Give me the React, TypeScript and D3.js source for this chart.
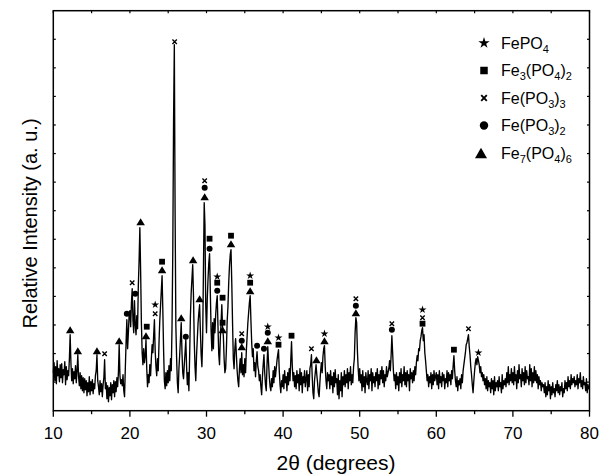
import React from 'react';
import * as d3 from 'd3';

// 2θ sampling of the pattern
const START = 10;
const STEP = 0.1;

// Relative intensity (a.u.), one row per degree (x.0 ... x.9)
const intensity: number[] = [
  38,48,30,44,27,50,35,42,29,46,
  33,47,28,41,36,49,26,44,31,40,
  35,52,76,48,30,42,27,39,32,45,
  28,40,56,34,25,38,22,35,20,33,
  18,32,21,30,15,28,19,34,16,29,
  20,31,17,27,22,35,40,56,30,24,
  16,30,19,27,14,26,33,51,22,28,
  12,25,9,23,15,28,11,26,18,30,
  14,29,19,33,24,38,66,35,27,31,
  25,36,20,14,42,68,91,62,78,96,
  100,84,108,122,90,78,110,86,76,95,
  82,125,150,183,140,88,58,46,62,48,
  55,71,42,24,36,28,46,35,52,66,
  58,75,91,60,44,35,52,40,68,90,
  105,120,135,100,60,30,22,38,25,40,
  28,45,30,52,40,85,160,290,366,200,
  85,52,28,18,42,56,72,88,58,38,
  32,46,58,71,44,26,38,20,55,95,
  118,132,146,115,70,44,30,55,72,88,
  98,106,80,56,44,72,140,208,185,105,
  78,112,132,148,157,118,80,60,88,62,
  92,78,96,108,115,84,56,46,72,88,
  106,82,75,52,38,42,62,90,104,128,
  145,156,161,128,88,52,42,62,72,56,
  40,30,24,42,52,38,58,36,46,34,
  52,38,60,74,88,98,108,115,90,68,
  54,62,40,48,34,50,59,44,40,30,
  36,24,16,34,46,56,38,26,20,46,
  64,48,34,24,20,32,24,40,28,44,
  34,42,50,56,61,40,26,18,30,24,
  36,22,40,28,34,20,38,26,42,30,
  50,69,45,30,38,24,35,22,40,28,
  36,20,42,26,38,18,34,28,40,24,
  32,40,20,36,24,42,46,56,34,18,
  12,30,38,46,36,28,18,14,28,40,
  48,38,54,62,65,44,30,22,38,30,
  36,22,40,26,34,18,38,24,41,28,
  32,16,36,12,30,20,38,14,34,26,
  40,24,36,28,42,22,38,30,44,26,
  36,28,44,52,78,93,88,60,42,30,
  42,28,36,20,40,24,34,18,38,30,
  26,40,22,36,30,42,20,38,28,34,
  24,38,30,42,22,36,26,40,32,44,
  28,40,24,36,30,44,34,38,42,50,
  40,55,75,58,40,30,36,22,38,26,
  34,20,38,28,42,24,36,30,44,26,
  38,24,40,30,36,20,42,32,38,28,
  40,30,44,36,48,55,50,62,60,70,
  74,80,83,70,76,58,50,40,30,36,
  24,34,28,38,22,36,26,40,30,34,
  38,26,36,22,40,28,34,24,38,30,
  36,22,32,28,40,24,38,30,36,26,
  40,32,45,55,40,30,24,34,20,30,
  26,32,22,36,28,40,46,52,58,66,
  68,72,76,64,56,44,36,26,18,30,
  40,48,52,46,54,50,46,38,44,34,
  38,30,36,26,32,22,34,20,30,24,
  28,18,32,22,30,16,34,20,28,24,
  30,20,34,24,28,18,36,22,30,26,
  32,24,38,28,44,26,36,30,42,28,
  38,26,44,30,36,22,40,28,46,32,
  36,24,42,30,38,26,44,28,40,32,
  34,26,46,30,42,24,38,28,44,30,
  40,28,36,22,34,26,30,20,28,24,
  26,18,28,14,24,16,30,20,26,12,
  24,16,28,18,22,14,26,20,30,18,
  26,16,24,20,28,14,22,18,30,22,
  28,20,34,24,30,22,36,26,32,28,
  34,24,30,26,36,22,32,28,38,24,
  30,22,34,26,28,20,32,18,26,22,
  24,
];

// Phase markers: [2θ, level]
const fePO4: [number, number][] = [
  [23.3, 106], [31.4, 134], [35.7, 135], [38.0, 84], [39.4, 73], [45.4, 77], [58.2, 101], [65.5, 58],
];
const fe3PO42: [number, number][] = [
  [22.2, 84], [24.2, 149], [30.4, 172], [31.4, 128], [32.1, 113], [32.1, 88], [33.2, 175],
  [35.7, 128], [39.4, 66], [41.1, 75], [58.2, 87], [62.3, 61],
];
const fePO33: [number, number][] = [
  [16.7, 57], [20.3, 128], [23.3, 97], [25.84, 369], [29.76, 230], [34.6, 77], [43.7, 62],
  [49.5, 112], [54.2, 87], [58.2, 93], [64.2, 82],
];
const fePO32: [number, number][] = [
  [19.6, 97], [20.7, 117], [27.3, 74], [29.76, 223], [30.4, 162], [31.4, 120], [34.6, 70],
  [36.6, 65], [37.5, 62], [38.0, 78], [49.5, 105], [54.2, 81],
];
const fe7PO46: [number, number][] = [
  [12.2, 81], [13.2, 60], [15.7, 60], [18.6, 70], [21.4, 189], [22.1, 75], [24.2, 141],
  [26.7, 93], [28.25, 151], [29.1, 112], [29.76, 214], [32.1, 81], [33.2, 167], [34.6, 64],
  [35.7, 120], [38.0, 70], [44.35, 51], [45.4, 70], [49.5, 98],
];

const xMajorTicks = [10, 20, 30, 40, 50, 60, 70, 80];
const xMinorTicks = [15, 25, 35, 45, 55, 65, 75];
const yTickCount = 14;

type Seg = [string, boolean];
const legendItems: { type: string; label: Seg[] }[] = [
  { type: 'star', label: [['FePO', false], ['4', true]] },
  { type: 'square', label: [['Fe', false], ['3', true], ['(PO', false], ['4', true], [')', false], ['2', true]] },
  { type: 'x', label: [['Fe(PO', false], ['3', true], [')', false], ['3', true]] },
  { type: 'circle', label: [['Fe(PO', false], ['3', true], [')', false], ['2', true]] },
  { type: 'triangle', label: [['Fe', false], ['7', true], ['(PO', false], ['4', true], [')', false], ['6', true]] },
];

const FONT = "'Liberation Sans', Arial, Helvetica, sans-serif";

const W = 602, H = 476;
const L = 53.3, R = 589.5, T = 10.7, B = 410.7;

function Marker({ type, cx, cy, big }: { type: string; cx: number; cy: number; big?: boolean }) {
  if (type === 'star') {
    const p = d3.symbol(d3.symbolStar, big ? 40 : 20)() as string;
    return <path d={p} transform={`translate(${cx},${cy})`} fill="#000" />;
  }
  if (type === 'square') {
    const s = big ? 7.5 : 5.8;
    return <rect x={cx - s / 2} y={cy - s / 2} width={s} height={s} fill="#000" />;
  }
  if (type === 'circle') {
    return <circle cx={cx} cy={cy} r={big ? 4.2 : 3} fill="#000" />;
  }
  if (type === 'triangle') {
    const w = big ? 12 : 8.5, h = big ? 10.5 : 7;
    return <path d={`M${cx},${cy - h / 2}L${cx + w / 2},${cy + h / 2}L${cx - w / 2},${cy + h / 2}Z`} fill="#000" />;
  }
  const a = big ? 2.8 : 2.2;
  return (
    <path
      d={`M${cx - a},${cy - a}L${cx + a},${cy + a}M${cx + a},${cy - a}L${cx - a},${cy + a}`}
      stroke="#000"
      strokeWidth={big ? 1.9 : 1.4}
      fill="none"
    />
  );
}

export default function App() {
  const x = d3.scaleLinear().domain([10, 80]).range([L, R]);
  const y = d3.scaleLinear().domain([0, 400]).range([B, T]);
  const line = d3.line<number>()
    .x((_, i) => x(START + i * STEP))
    .y((d) => y(d));
  const yTicks = d3.range(1, yTickCount).map((i) => (400 / yTickCount) * i);

  const groups: [string, [number, number][]][] = [
    ['star', fePO4], ['square', fe3PO42], ['x', fePO33], ['circle', fePO32], ['triangle', fe7PO46],
  ];

  const legendX = 484, legendTextX = 501, legendY0 = 43, legendDy = 27.5;

  return (
    <svg width={W} height={H} style={{ position: 'absolute', left: 0, top: 0, background: '#fff' }}>
      <rect x={0} y={0} width={W} height={H} fill="#fff" />
      <path d={line(intensity) as string} fill="none" stroke="#000" strokeWidth={1.35} strokeLinejoin="round" />

      {groups.map(([t, arr]) =>
        arr.map(([tt, v], i) => <Marker key={t + i} type={t} cx={x(tt)} cy={y(v)} />)
      )}

      {/* frame */}
      <rect x={L} y={T} width={R - L} height={B - T} fill="none" stroke="#000" strokeWidth={1.5} />

      {/* bottom ticks (outside) */}
      {xMajorTicks.map((t) => (
        <line key={'bM' + t} x1={x(t)} x2={x(t)} y1={B} y2={B + 6} stroke="#000" strokeWidth={1.3} />
      ))}
      {xMinorTicks.map((t) => (
        <line key={'bm' + t} x1={x(t)} x2={x(t)} y1={B} y2={B + 3.5} stroke="#000" strokeWidth={1.3} />
      ))}
      {/* top ticks (inside) */}
      {[...xMajorTicks, ...xMinorTicks].map((t) => (
        <line key={'t' + t} x1={x(t)} x2={x(t)} y1={T} y2={T + 2.5} stroke="#000" strokeWidth={1.2} />
      ))}
      {/* left / right ticks (inside) */}
      {yTicks.map((v) => (
        <g key={'y' + v}>
          <line x1={L} x2={L + 2.5} y1={y(v)} y2={y(v)} stroke="#000" strokeWidth={1.2} />
          <line x1={R} x2={R - 2.5} y1={y(v)} y2={y(v)} stroke="#000" strokeWidth={1.2} />
        </g>
      ))}

      {xMajorTicks.map((t) => (
        <text key={'l' + t} x={x(t)} y={439} fontSize={17} textAnchor="middle" fontFamily={FONT} fill="#000">{t}</text>
      ))}

      <text x={336} y={469.5} fontSize={21} textAnchor="middle" fontFamily={FONT} fill="#000">2θ (degrees)</text>
      <text transform="translate(36.5,223.5) rotate(-90)" fontSize={20} textAnchor="middle" fontFamily={FONT} fill="#000">
        Relative Intensity (a. u.)
      </text>

      {legendItems.map((it, i) => {
        const cy = legendY0 + i * legendDy;
        let sub = false;
        return (
          <g key={'lg' + i}>
            <Marker type={it.type} cx={it.type === 'triangle' ? legendX - 3 : legendX} cy={cy} big />
            <text x={legendTextX} y={cy + 5.5} fontSize={16} fontFamily={FONT} fill="#000">
              {it.label.map(([s, isSub], j) => {
                let dy = 0;
                if (isSub && !sub) dy = 4;
                if (!isSub && sub) dy = -4;
                sub = isSub;
                return (
                  <tspan key={j} dy={dy} fontSize={isSub ? 11 : 16}>{s}</tspan>
                );
              })}
            </text>
          </g>
        );
      })}
    </svg>
  );
}
